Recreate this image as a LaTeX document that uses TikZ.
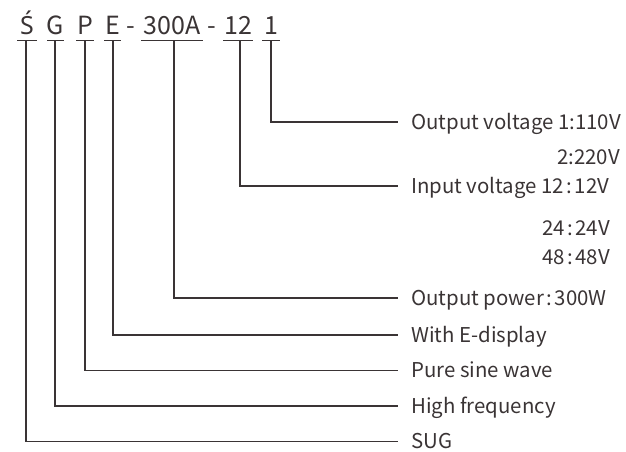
\documentclass[tikz,border=0pt]{standalone}
\usepackage{fontspec}
\setmainfont{Noto Sans CJK SC}
\newfontfamily\nsans{Noto Sans}
\newcommand{\cln}{\kern2.5pt:\kern2.5pt}
\begin{document}
\begin{tikzpicture}[x=1pt,y=-1pt,
  lbl/.style={anchor=base west,inner sep=0pt,text=txt,font=\fontsize{20.4}{23}\selectfont},
  code/.style={anchor=base,inner sep=0pt,text=txt,font=\fontsize{25}{28}\selectfont},
  wire/.style={draw=txt,line width=1.1pt},
  uline/.style={draw=txt,line width=1pt}]
\definecolor{txt}{HTML}{3A3435}
\useasboundingbox (0,0) rectangle (626,452);
% code letters
\node[code] (cS) at (27,34.5) {\nsans Ś};
\node[code] (cG) at (55,34.5) {G};
\node[code] (cP) at (85,34.5) {P};
\node[code] (cE) at (113,34.5) {E};
\node[code] (d1) at (130.5,34.5) {-};
\node[code] (c300) at (172,34.5) {300A};
\node[code] (d2) at (211.5,34.5) {-};
\node[code] (c12) at (238,34.5) {12};
\node[code] (c1) at (271,34.5) {1};
% underlines
\draw[uline] (17,40.5) -- (37,40.5);
\draw[uline] (47,40.5) -- (64,40.5);
\draw[uline] (76,40.5) -- (94,40.5);
\draw[uline] (104,40.5) -- (121,40.5);
\draw[uline] (141,40.5) -- (203,40.5);
\draw[uline] (223,40.5) -- (253,40.5);
\draw[uline] (262,40.5) -- (280,40.5);
% right ends of wires
\coordinate (e1) at (398,122);
\coordinate (e12) at (398,186);
\coordinate (e300) at (398,298);
\coordinate (eE) at (398,335);
\coordinate (eP) at (398,370.5);
\coordinate (eG) at (398,406);
\coordinate (eS) at (398,441.5);
\draw[wire] (271,40.5) |- (e1);
\draw[wire] (240,40.5) |- (e12);
\draw[wire] (174,40.5) |- (e300);
\draw[wire] (113,40.5) |- (eE);
\draw[wire] (85,40.5) |- (eP);
\draw[wire] (55,40.5) |- (eG);
\draw[wire] (26,40.5) |- (eS);
% labels
\node[lbl] (l1) at (411,129) {Output voltage 1:110V};
\node[lbl,anchor=base east] (l1b) at (620,164) {2:220V};
\node[lbl] (l12) at (411,193) {Input voltage 12\cln12V};
\node[lbl,anchor=base east] (l24) at (610,235) {24\cln24V};
\node[lbl,anchor=base east] (l48) at (610,264) {48\cln48V};
\node[lbl] (l300) at (411,305) {Output power\cln300W};
\node[lbl] (lE) at (411,342) {With E-display};
\node[lbl] (lP) at (411,377.5) {Pure sine wave};
\node[lbl] (lG) at (411,413) {High frequency};
\node[lbl] (lS) at (411,448.5) {SUG};
\end{tikzpicture}
\end{document}
